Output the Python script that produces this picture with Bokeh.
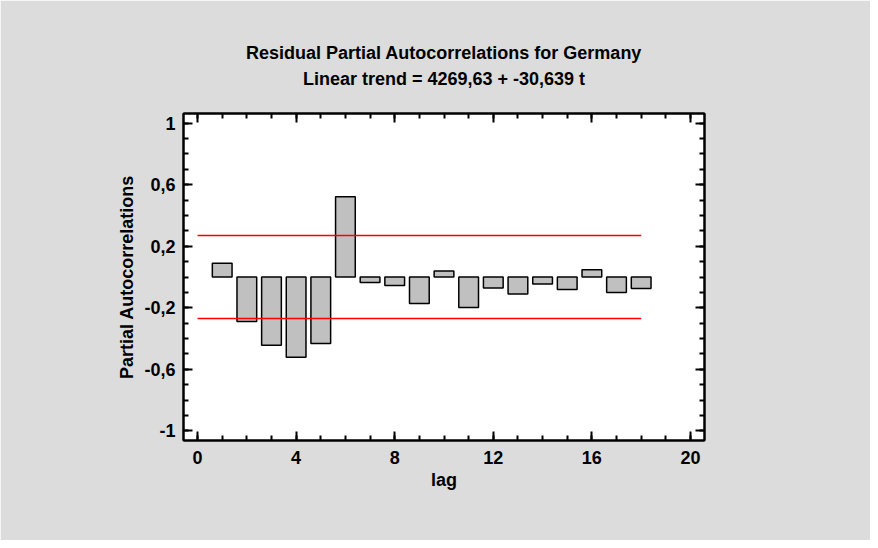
from bokeh.plotting import figure
from bokeh.models import (LinearAxis, FixedTicker, CustomJSTickFormatter, Title, Range1d)
from bokeh.embed import file_html
from bokeh.resources import INLINE

# ---- data ----
lags = [1, 2, 3, 4, 5, 6, 7, 8, 9, 10, 11, 12, 13, 14, 15, 16, 17, 18]
pacf = [0.09, -0.289, -0.443, -0.521, -0.432, 0.521, -0.036, -0.056, -0.172,
        0.039, -0.198, -0.072, -0.111, -0.046, -0.081, 0.047, -0.101, -0.075]
limit = 0.27
x_major = [0, 4, 8, 12, 16, 20]
x_minor = list(range(0, 21))
y_major = [-1, -0.6, -0.2, 0.2, 0.6, 1]
y_minor = [round(-1 + 0.1 * i, 1) for i in range(21)]
title1 = "Residual Partial Autocorrelations for Germany"
title2 = "Linear trend = 4269,63 + -30,639 t"
xlabel = "lag"
ylabel = "Partial Autocorrelations"

FONT = "Liberation Sans"
FS = "18px"
W, H = 870, 540
ML, MR, MT, MB = 183, 166, 113, 100

p = figure(width=W, height=H, output_backend="svg", toolbar_location=None, title=None,
           x_range=Range1d(-0.57, 20.57), y_range=Range1d(-1.0625, 1.0625),
           min_border_left=ML, min_border_right=MR, min_border_top=MT, min_border_bottom=MB,
           background_fill_color="white", border_fill_color="#dcdcdc",
           x_axis_label=xlabel, y_axis_label=ylabel)
p.grid.visible = False
p.outline_line_color = "black"
p.outline_line_width = 2

fmt = CustomJSTickFormatter(code="""
var s = (Math.round(tick*10)/10).toString();
return s.replace('.', ',');
""")

def style_axis(ax, ticks, minors, labels=True):
    ax.ticker = FixedTicker(ticks=ticks, minor_ticks=minors)
    ax.axis_line_color = "black"
    ax.axis_line_width = 2
    ax.major_tick_in = 9
    ax.major_tick_out = 0
    ax.minor_tick_in = 5
    ax.minor_tick_out = 0
    ax.major_tick_line_width = 2
    ax.minor_tick_line_width = 2
    ax.major_tick_line_color = "black"
    ax.minor_tick_line_color = "black"
    ax.major_label_text_font = FONT
    ax.major_label_text_font_style = "bold"
    ax.major_label_text_font_size = FS if labels else "0px"
    ax.major_label_text_color = "black" if labels else None
    if not labels:
        ax.major_label_standoff = 0
    ax.axis_label_text_font = FONT
    ax.axis_label_text_font_style = "bold"
    ax.axis_label_text_font_size = FS
    ax.axis_label_text_color = "black"

xa = p.xaxis[0]
ya = p.yaxis[0]
style_axis(xa, x_major, x_minor)
style_axis(ya, y_major, y_minor)
ya.formatter = fmt
xa.major_label_standoff = 10
xa.axis_label_standoff = 3
ya.major_label_standoff = 8
ya.axis_label_standoff = 4

# mirrored top axis; its label carries the second title line
top = LinearAxis(axis_label=title2)
style_axis(top, x_major, x_minor, labels=False)
top.axis_label_standoff = 25
p.add_layout(top, "above")
right = LinearAxis()
style_axis(right, y_major, y_minor, labels=False)
p.add_layout(right, "right")

# bars
p.vbar(x=lags, top=pacf, bottom=0, width=0.8, fill_color="#c0c0c0",
       line_color="black", line_width=1.5)

# limit lines
xl = [0, max(lags)]
p.line(x=xl, y=[limit, limit], line_color="#ff0000", line_width=1.5)
p.line(x=xl, y=[-limit, -limit], line_color="#ff0000", line_width=1.5)

p.add_layout(Title(text=title1, align="center", text_font=FONT, text_font_style="bold",
                   text_font_size=FS, text_color="black", standoff=6), "above")

open("out.html", "w").write(file_html(p, INLINE))
